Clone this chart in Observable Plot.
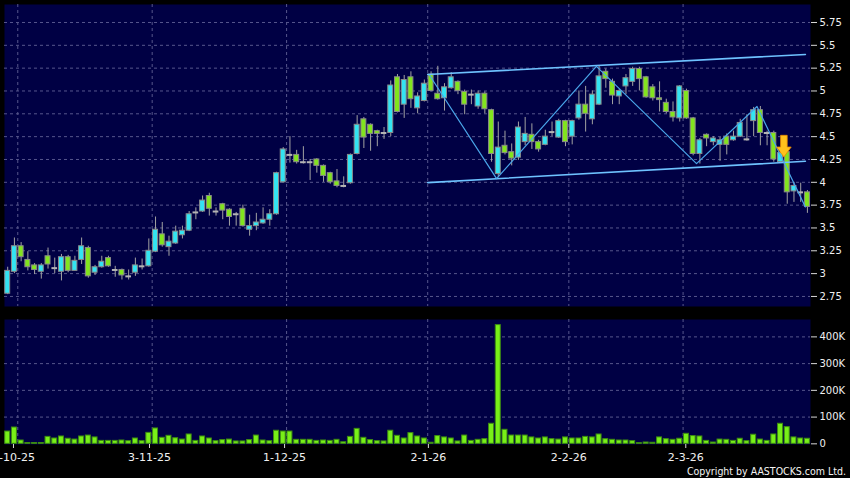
<!DOCTYPE html>
<html><head><meta charset="utf-8">
<script src="https://cdn.jsdelivr.net/npm/d3@7"></script>
<script src="https://cdn.jsdelivr.net/npm/@observablehq/plot@0.6"></script>
<style>
html,body{margin:0;padding:0;background:#000;}
#wrap{position:relative;width:850px;height:478px;overflow:hidden;background:#000;}
#wrap svg{position:absolute;left:0;top:0;}
#copy{position:absolute;right:4px;top:465px;line-height:12px;color:#f4f4f4;font-size:10.5px;font-family:"DejaVu Sans Condensed","DejaVu Sans",sans-serif;font-stretch:condensed;white-space:nowrap;}
</style></head><body><div id="wrap"><div id="copy">Copyright by AASTOCKS.com Ltd.</div></div>
<script>
// ---- Daily OHLC (index 0 = first candle) ----
const openP = [2.78,3.02,3.30,3.15,3.09,3.02,3.19,3.06,3.02,3.18,
 3.03,3.15,3.28,3.01,3.07,3.17,3.04,3.04,2.97,3.01,
 3.08,3.08,3.24,3.43,3.29,3.33,3.42,3.47,3.67,3.68,
 3.85,3.68,3.76,3.70,3.65,3.71,3.48,3.52,3.55,3.59,
 3.65,4.00,4.30,4.30,4.22,4.22,4.25,4.18,4.10,4.01,
 3.96,3.99,4.31,4.69,4.63,4.56,4.54,4.54,5.15,4.85,
 5.15,4.81,4.89,5.18,4.97,4.92,5.03,5.10,4.99,4.96,
 4.83,4.97,4.79,4.09,4.40,4.33,4.27,4.44,4.52,4.44,
 4.41,4.55,4.49,4.67,4.50,4.70,4.85,4.69,4.85,5.21,
 5.10,4.94,5.05,5.10,5.24,5.15,5.04,4.92,4.87,4.77,
 4.70,5.00,4.70,4.31,4.52,4.44,4.41,4.50,4.46,4.50,
 4.47,4.67,4.79,4.54,4.54,4.22,4.33,3.90,3.89,3.89];
const highP = [3.07,3.39,3.34,3.24,3.11,3.11,3.28,3.17,3.21,3.20,
 3.19,3.39,3.30,3.09,3.19,3.19,3.08,3.05,3.04,3.17,
 3.16,3.38,3.62,3.56,3.41,3.52,3.52,3.68,3.72,3.85,
 3.88,3.72,3.77,3.71,3.67,3.75,3.64,3.66,3.72,3.70,
 4.11,4.38,4.50,4.35,4.39,4.25,4.26,4.19,4.11,4.14,
 4.06,4.31,4.73,4.71,4.64,4.57,4.60,5.11,5.18,5.17,
 5.21,4.98,5.12,5.21,5.27,5.08,5.20,5.11,5.01,5.01,
 5.00,4.99,4.80,4.66,4.56,4.42,4.66,4.71,4.64,4.46,
 4.57,4.66,4.69,4.68,4.68,5.00,5.05,5.00,5.27,5.24,
 5.13,5.02,5.18,5.26,5.26,5.16,5.07,5.10,4.91,4.88,
 5.06,5.02,4.71,4.48,4.53,4.50,4.49,4.53,4.56,4.69,
 4.74,4.82,4.83,4.56,4.56,4.34,4.34,4.00,3.99,3.91];
const lowP = [2.77,3.00,3.13,3.03,2.99,2.94,3.05,3.00,2.92,3.01,
 3.03,3.10,2.95,2.98,3.06,3.07,2.96,2.93,2.93,2.97,
 3.04,3.07,3.23,3.29,3.19,3.32,3.38,3.46,3.59,3.67,
 3.63,3.63,3.59,3.52,3.52,3.51,3.41,3.47,3.54,3.52,
 3.64,3.99,4.21,4.20,4.20,4.02,4.10,4.00,3.98,3.94,
 3.94,3.98,4.30,4.37,4.34,4.39,4.47,4.50,4.76,4.70,
 4.81,4.75,4.88,4.99,4.90,4.78,5.02,4.96,4.74,4.85,
 4.80,4.75,4.22,4.05,4.30,4.18,4.24,4.40,4.36,4.33,
 4.40,4.50,4.48,4.39,4.41,4.68,4.55,4.63,4.84,5.03,
 4.85,4.85,4.96,5.05,5.00,4.92,4.89,4.77,4.75,4.66,
 4.66,4.69,4.29,4.20,4.39,4.40,4.23,4.30,4.45,4.49,
 4.45,4.50,4.40,4.40,4.22,4.21,3.76,3.78,3.78,3.66];
const closeP = [3.03,3.30,3.18,3.07,3.04,3.09,3.10,3.06,3.18,3.03,
 3.14,3.30,2.97,3.07,3.13,3.08,3.04,2.98,2.97,3.09,
 3.08,3.25,3.48,3.31,3.35,3.46,3.47,3.65,3.67,3.80,
 3.71,3.68,3.69,3.62,3.65,3.52,3.52,3.56,3.59,3.65,
 4.10,4.36,4.30,4.22,4.22,4.22,4.18,4.07,4.00,3.96,
 3.96,4.30,4.63,4.49,4.53,4.53,4.54,5.06,4.77,5.12,
 4.91,4.94,5.08,5.00,4.91,5.04,5.15,5.00,4.85,4.96,
 4.97,4.80,4.31,4.38,4.32,4.26,4.60,4.53,4.44,4.36,
 4.50,4.55,4.67,4.44,4.67,4.85,4.75,4.96,5.16,5.13,
 4.95,5.00,5.14,5.24,5.13,4.93,4.92,4.90,4.77,4.71,
 5.05,4.70,4.31,4.46,4.48,4.48,4.46,4.41,4.50,4.65,
 4.47,4.79,4.54,4.54,4.25,4.32,3.89,3.96,3.89,3.73];
// ---- Volume (thousands of shares) ----
const volumeK = [46,61,12.5,3,3,3,26,20,27.5,19,
 16,27.5,31,24,11,11,11,12.5,10,20,
 10,41,57.5,22.5,30,21,16,35,11,27.5,
 20,10,14,16,9,9,14,31,12.5,10,
 49,46,46,15,15,15,11,12.5,11,15,
 6,26,56,22.5,14,10,9,49,30,20,
 40,27.5,20,4,29,24,20,9,31,11,
 15,17.5,75,444,52.5,31,31,31,24,20,
 24,17.5,16,24,20,20,26,24,35,17.5,
 15,12.5,12.5,10,2.5,5,4,24,17.5,15,
 19,37.5,29,27.5,11,5,16,15,11,19,
 10,34,16,11,35,75,62.5,24,20,19];
// ---- Axis ticks ----
const dateGridPos = [1.5, 21.5, 41.5, 62.5, 83.5, 100.5];
const dateTickPos = [0.86, 21.1, 41.2, 62.6, 83.5, 100.9];
const dateTickLabels = ["2-10-25", "3-11-25", "1-12-25", "2-1-26", "2-2-26", "2-3-26"];
const priceTicks = [2.75, 3, 3.25, 3.5, 3.75, 4, 4.25, 4.5, 4.75, 5, 5.25, 5.5, 5.75];
const volTicks = [0, 100000, 200000, 300000, 400000];
const volTickLabels = ["0", "100K", "200K", "300K", "400K"];
// ---- Drawn trend lines (index, price) ----
const chanUpI = [62.5, 118.7], chanUpP = [5.18, 5.40];
const chanLoI = [62.5, 118.7], chanLoP = [3.997, 4.23];
const zigI = [62.8, 72.75, 87.6, 102.5, 111.5, 118.7];
const zigP = [5.17, 4.04, 5.27, 4.205, 4.83, 3.73];
const arrowI = [115.5], arrowP = [4.394];

const NAVY = "#000044", GRID = "#56568c", UP = "#33e4f2", DOWN = "#82e41e", DOJI = "#b4b4b4";
const WICK = "#a2a2a2", EDGE = "#8a8a8a", VOL = "#78f018", VOLEDGE = "#3d8c12", TXT = "#f0f0f0";
const XDOM = [-0.476, 119.46];
const HW = 0.37;

const candles = openP.map((o, i) => ({i, open: o, high: highP[i], low: lowP[i], close: closeP[i]}));
const ups = candles.filter(d => d.close > d.open);
const downs = candles.filter(d => d.close < d.open);
const dojis = candles.filter(d => d.close === d.open);
const vols = volumeK.map((v, i) => ({i, v: v * 1000}));
const mkLine = (I, P) => I.map((x, k) => ({x, y: P[k]}));

const downArrow = {
  draw(ctx) {
    ctx.moveTo(-3.3, -11); ctx.lineTo(3.3, -11); ctx.lineTo(3.3, 0.7); ctx.lineTo(7.3, 0.7);
    ctx.lineTo(0, 10.7); ctx.lineTo(-7.3, 0.7); ctx.lineTo(-3.3, 0.7); ctx.closePath();
  }
};

const style = {background: "transparent", color: TXT, fontFamily: "DejaVu Sans", fontSize: "10px", overflow: "hidden"};

const pricePlot = Plot.plot({
  width: 850, height: 478, marginLeft: 4, marginRight: 40, marginTop: 4, marginBottom: 172,
  style,
  x: {domain: XDOM, axis: null},
  y: {domain: [2.64, 5.947], axis: null},
  marks: [
    Plot.frame({fill: NAVY, stroke: null}),
    Plot.ruleY(priceTicks, {stroke: GRID, strokeDasharray: "3,3"}),
    Plot.ruleX(dateGridPos, {stroke: GRID, strokeDasharray: "3,3"}),
    Plot.ruleX(candles, {x: "i", y1: "low", y2: "high", stroke: WICK}),
    Plot.rect(ups, {x1: d => d.i - HW, x2: d => d.i + HW, y1: "open", y2: "close", fill: UP, stroke: EDGE}),
    Plot.rect(downs, {x1: d => d.i - HW, x2: d => d.i + HW, y1: "open", y2: "close", fill: DOWN, stroke: EDGE}),
    Plot.ruleY(dojis, {x1: d => d.i - HW - 0.05, x2: d => d.i + HW + 0.05, y: "close", stroke: DOJI, strokeWidth: 2}),
    Plot.line(mkLine(chanUpI, chanUpP), {x: "x", y: "y", stroke: "#6ec2ff", strokeWidth: 1.6}),
    Plot.line(mkLine(chanLoI, chanLoP), {x: "x", y: "y", stroke: "#6ec2ff", strokeWidth: 1.6}),
    Plot.line(mkLine(zigI, zigP), {x: "x", y: "y", stroke: "#4aa6ea", strokeWidth: 1.2}),
    Plot.dot(mkLine(arrowI, arrowP), {x: "x", y: "y", symbol: downArrow, r: 6, fill: "#ffc21c", stroke: "#e88a00", strokeWidth: 0.8}),
    Plot.axisY({anchor: "right", label: null, ticks: priceTicks, tickFormat: d => String(d), tickSize: 6, tickPadding: 3, stroke: "#d8d8d8", fill: TXT, fontSize: 10})
  ]
});

const volPlot = Plot.plot({
  width: 850, height: 478, marginLeft: 4, marginRight: 40, marginTop: 319, marginBottom: 34,
  style,
  x: {domain: XDOM, axis: null},
  y: {domain: [-2500, 465000], axis: null},
  marks: [
    Plot.frame({fill: NAVY, stroke: null}),
    Plot.ruleY(volTicks.slice(1), {stroke: GRID, strokeDasharray: "3,3"}),
    Plot.ruleX(dateGridPos, {stroke: GRID, strokeDasharray: "3,3"}),
    Plot.rect(vols, {x1: d => d.i - HW, x2: d => d.i + HW, y1: 0, y2: "v", fill: VOL, stroke: VOLEDGE}),
    Plot.axisY({anchor: "right", label: null, ticks: volTicks, tickFormat: d => volTickLabels[volTicks.indexOf(d)], tickSize: 6, tickPadding: 3, stroke: "#d8d8d8", fill: TXT, fontSize: 10}),
    Plot.axisX({anchor: "bottom", label: null, ticks: dateTickPos, tickFormat: d => dateTickLabels[dateTickPos.indexOf(d)], tickSize: 4, tickPadding: 5, stroke: "#d8d8d8", fill: TXT, fontSize: 11})
  ]
});

const wrap = document.getElementById("wrap");
wrap.insertBefore(volPlot, wrap.firstChild);
wrap.insertBefore(pricePlot, wrap.firstChild);
</script>
</body></html>
